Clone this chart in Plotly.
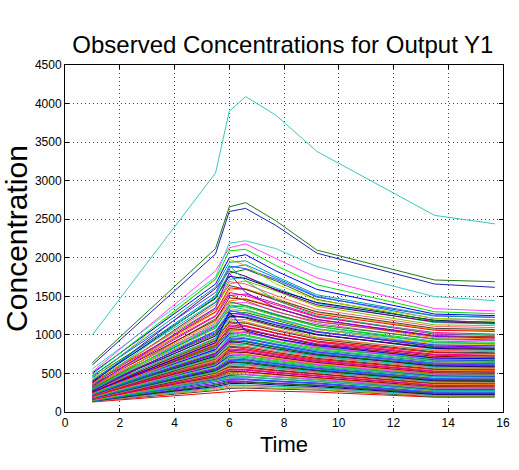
import plotly.graph_objects as go

# Sampling times (same for every subject)
time = [1, 5.5, 6, 6.6, 7.7, 9.2, 13.5, 15.7]

# Observed concentration profiles (one row per subject)
y_top = [
    [1000, 3100, 3900, 4090, 3850, 3380, 2550, 2440],
    [640, 2120, 2660, 2715, 2480, 2100, 1712, 1690],
    [610, 2050, 2600, 2640, 2420, 2060, 1660, 1617],
    [560, 1750, 2190, 2220, 2120, 1885, 1496, 1444],
]
top_colors = ["#36C8BE", "#1A7A1A", "#2020B0", "#3CC8C8"]

y_upper = [
    [520, 1830, 2130, 2180, 1990, 1740, 1340, 1310],
    [490, 1720, 2090, 2110, 1900, 1650, 1300, 1275],
    [505, 1660, 2000, 2040, 1830, 1590, 1270, 1250],
    [350, 1500, 1900, 1700, 1450, 1250, 1020, 1000],
    [460, 1620, 1940, 1960, 1760, 1520, 1250, 1225],
    [425, 1730, 1980, 1900, 1660, 1450, 1215, 1190],
    [470, 1550, 1890, 1860, 1720, 1490, 1245, 1230],
    [410, 1510, 1870, 1910, 1740, 1500, 1210, 1195],
    [330, 1350, 1800, 1550, 1350, 1200, 980, 960],
    [445, 1470, 1800, 1850, 1700, 1460, 1180, 1165],
    [380, 1600, 1830, 1760, 1580, 1390, 1170, 1150],
    [395, 1480, 1760, 1730, 1590, 1420, 1190, 1160],
]

y_mid = [
    [420, 1430, 1720, 1750, 1610, 1410, 1160, 1140],
    [365, 1390, 1690, 1660, 1510, 1330, 1110, 1095],
    [400, 1350, 1660, 1700, 1570, 1370, 1130, 1120],
    [350, 1420, 1640, 1590, 1460, 1300, 1085, 1070],
    [385, 1300, 1610, 1590, 1450, 1270, 1060, 1045],
    [330, 1290, 1580, 1600, 1480, 1290, 1070, 1055],
    [372, 1250, 1550, 1510, 1390, 1230, 1030, 1010],
    [342, 1240, 1510, 1530, 1410, 1240, 1010, 995],
    [318, 1330, 1520, 1440, 1300, 1170, 985, 970],
    [356, 1190, 1480, 1460, 1350, 1200, 990, 975],
    [325, 1170, 1440, 1470, 1360, 1180, 965, 950],
    [300, 1210, 1430, 1380, 1260, 1130, 950, 935],
    [348, 1130, 1410, 1420, 1310, 1150, 940, 925],
    [312, 1120, 1390, 1360, 1250, 1110, 920, 905],
    [260, 900, 1300, 1050, 950, 860, 700, 690],
    [290, 1150, 1370, 1330, 1210, 1080, 905, 890],
    [338, 1090, 1360, 1380, 1270, 1110, 900, 885],
    [305, 1080, 1340, 1310, 1200, 1070, 885, 875],
    [284, 1110, 1320, 1270, 1160, 1040, 870, 860],
    [326, 1050, 1300, 1320, 1220, 1075, 870, 858],
    [296, 1030, 1280, 1260, 1160, 1035, 855, 842],
]

y_low = [
    [318, 1010, 1270, 1290, 1190, 1045, 845, 830],
    [272, 1050, 1260, 1220, 1110, 1000, 835, 822],
    [308, 985, 1240, 1230, 1130, 1005, 825, 812],
    [285, 960, 1220, 1250, 1150, 1010, 815, 800],
    [262, 1000, 1210, 1170, 1070, 960, 800, 790],
    [300, 940, 1190, 1200, 1100, 970, 795, 782],
    [276, 930, 1170, 1150, 1055, 945, 780, 768],
    [255, 955, 1160, 1120, 1025, 920, 772, 760],
    [292, 905, 1150, 1160, 1070, 945, 765, 752],
    [268, 895, 1130, 1110, 1020, 910, 750, 738],
    [248, 920, 1115, 1080, 990, 885, 742, 730],
    [284, 870, 1100, 1110, 1025, 905, 735, 722],
    [260, 862, 1085, 1065, 980, 875, 722, 710],
    [242, 885, 1070, 1040, 955, 855, 712, 700],
    [276, 840, 1060, 1070, 985, 870, 705, 694],
    [254, 830, 1045, 1025, 945, 840, 694, 682],
    [236, 850, 1030, 1000, 920, 825, 685, 672],
    [268, 810, 1020, 1030, 950, 840, 678, 666],
    [246, 800, 1005, 985, 905, 810, 665, 655],
    [230, 820, 990, 960, 885, 795, 656, 645],
    [262, 780, 980, 990, 910, 808, 650, 640],
    [240, 772, 965, 948, 872, 780, 640, 628],
    [224, 790, 952, 925, 852, 765, 630, 620],
    [255, 752, 942, 952, 876, 778, 622, 612],
    [234, 742, 928, 910, 838, 752, 612, 602],
    [218, 760, 915, 890, 820, 738, 604, 594],
    [248, 724, 905, 915, 842, 748, 596, 586],
    [228, 714, 890, 875, 805, 724, 586, 576],
    [212, 730, 878, 855, 788, 710, 578, 568],
    [242, 698, 868, 878, 810, 720, 570, 561],
    [222, 688, 852, 838, 772, 696, 560, 552],
    [206, 702, 842, 820, 756, 682, 552, 544],
    [236, 672, 832, 842, 778, 692, 545, 536],
    [216, 662, 818, 804, 740, 668, 535, 527],
    [200, 676, 806, 786, 726, 656, 528, 520],
]

y_bottom = [
    [230, 648, 798, 808, 746, 666, 520, 512],
    [210, 638, 784, 772, 712, 643, 511, 503],
    [195, 650, 772, 752, 696, 630, 503, 496],
    [224, 624, 764, 774, 716, 640, 496, 488],
    [204, 614, 752, 740, 684, 618, 487, 480],
    [190, 626, 740, 722, 668, 605, 480, 473],
    [218, 602, 732, 742, 686, 614, 472, 465],
    [198, 592, 720, 708, 655, 594, 464, 457],
    [185, 602, 708, 692, 641, 581, 457, 450],
    [212, 580, 700, 710, 657, 589, 449, 443],
    [193, 570, 688, 677, 627, 569, 441, 435],
    [180, 578, 676, 662, 614, 557, 434, 428],
    [206, 558, 668, 678, 628, 564, 427, 421],
    [188, 548, 656, 646, 599, 545, 419, 413],
    [175, 554, 645, 632, 587, 534, 412, 406],
    [200, 536, 636, 646, 600, 540, 405, 400],
    [182, 526, 624, 615, 571, 521, 397, 392],
    [170, 530, 613, 602, 560, 511, 390, 385],
    [194, 514, 604, 614, 571, 516, 383, 378],
    [177, 504, 592, 584, 543, 497, 375, 370],
    [165, 506, 581, 572, 533, 488, 368, 364],
    [188, 492, 572, 582, 543, 492, 361, 357],
    [172, 482, 560, 553, 515, 473, 353, 349],
    [160, 482, 550, 542, 506, 465, 346, 342],
    [182, 470, 540, 550, 514, 468, 339, 335],
    [167, 460, 528, 522, 487, 449, 331, 328],
    [155, 458, 518, 512, 479, 442, 324, 321],
    [176, 448, 508, 518, 486, 444, 317, 314],
    [162, 438, 496, 491, 459, 425, 309, 306],
    [150, 434, 486, 482, 452, 419, 302, 299],
    [170, 426, 476, 486, 457, 420, 295, 292],
    [157, 416, 464, 460, 431, 401, 287, 285],
    [146, 410, 454, 452, 425, 396, 280, 278],
    [164, 404, 444, 454, 428, 396, 273, 271],
    [152, 394, 432, 429, 403, 377, 265, 264],
    [142, 386, 422, 422, 398, 373, 258, 257],
    [158, 372, 410, 418, 394, 366, 250, 249],
    [147, 356, 398, 396, 374, 350, 243, 242],
    [138, 348, 384, 388, 368, 344, 236, 236],
    [153, 330, 368, 372, 352, 330, 228, 228],
    [142, 318, 352, 350, 334, 314, 221, 221],
    [134, 306, 338, 344, 328, 308, 214, 214],
    [148, 290, 322, 326, 310, 294, 206, 207],
    [137, 278, 306, 310, 298, 284, 199, 200],
    [130, 250, 272, 280, 270, 258, 192, 193],
]

palette = ["#FF0000", "#008000", "#0000FF", "#BF00BF", "#00BFBF", "#C8C800",
           "#FF8000", "#404040", "#8000FF", "#00E000", "#FF0080", "#000080",
           "#00A0A0", "#A00000", "#80C000", "#0080FF", "#FF40FF", "#E0B000",
           "#600060", "#20C080", "#A0522D", "#FF6060", "#4040FF", "#208020"]

fig = go.Figure()

rest = y_upper + y_mid + y_low + y_bottom
for i, row in enumerate(rest[::-1]):
    fig.add_trace(go.Scatter(x=time, y=row, mode="lines",
                             line=dict(color=palette[(i * 7) % len(palette)], width=1),
                             showlegend=False, hoverinfo="skip"))
for row, c in zip(y_top, top_colors):
    fig.add_trace(go.Scatter(x=time, y=row, mode="lines",
                             line=dict(color=c, width=1),
                             showlegend=False, hoverinfo="skip"))

axis_common = dict(showline=True, linecolor="black", linewidth=1, mirror="ticks",
                   ticks="inside", ticklen=4, tickcolor="black",
                   showgrid=True, gridcolor="#444444", griddash="1px,3px", gridwidth=1,
                   zeroline=False, tickfont=dict(family="Arial, Liberation Sans", size=12, color="black"))

fig.update_layout(
    width=519, height=470,
    margin=dict(l=65, r=9, t=65, b=58),
    paper_bgcolor="white", plot_bgcolor="white",
    font=dict(family="Arial, Liberation Sans", color="black"),
    title=dict(text="Observed Concentrations for Output Y1", x=0.545, xanchor="center",
               y=1 - 45 / 470, yanchor="middle", font=dict(size=24, color="black")),
    xaxis=dict(range=[0, 16], dtick=2, tick0=0,
               title=dict(text="Time", font=dict(size=22), standoff=7), **axis_common),
    yaxis=dict(range=[0, 4500], dtick=500, tick0=0,
               title=dict(text="Concentration", font=dict(size=30), standoff=3), **axis_common),
)

fig.write_html("out.html")
